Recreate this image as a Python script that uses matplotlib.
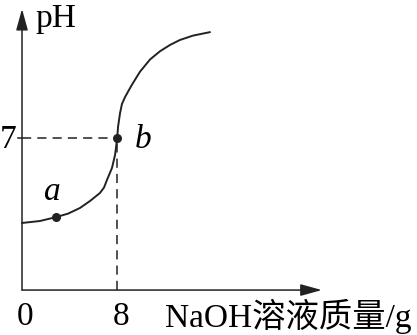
import matplotlib
matplotlib.use("Agg")
import matplotlib.pyplot as plt

plt.rcParams['font.family'] = ['Liberation Serif', 'Noto Sans CJK SC']

# curve: NaOH solution mass (g) vs pH
mass = [0, 1.5, 2.86, 3.87, 4.87, 5.71, 6.55, 6.89, 7.14, 7.56, 7.82, 8.0, 8.07, 8.24, 8.4,
        8.66, 9.22, 9.92, 10.76, 11.6, 12.44, 13.28, 14.37, 15.8]
ph = [3.09, 3.18, 3.36, 3.52, 3.78, 4.1, 4.47, 4.72, 5.07, 5.62, 6.22, 7.0, 7.51, 8.15, 8.57,
      8.89, 9.44, 10.06, 10.62, 11.0, 11.29, 11.52, 11.72, 11.88]

point_a = (2.86, 3.36)
point_b = (8, 7)
x_ticks = [0, 8]
y_ticks = [7]

fig = plt.figure(figsize=(4.17, 3.35), dpi=100)
ax = fig.add_axes([0, 0, 1, 1])
ax.set_xlim(-1.85, 33.2)
ax.set_ylim(-2.07, 13.36)
ax.axis('off')

ink = '#222222'

# axes with arrows
arrow = dict(arrowstyle='-|>,head_length=1.3,head_width=0.36', color=ink, lw=1.1,
             shrinkA=0, shrinkB=0)
ax.annotate('', xy=(0, 12.95), xytext=(0, 0), arrowprops=arrow)
ax.annotate('', xy=(25.2, 0), xytext=(0, 0), arrowprops=arrow)

# curve
ax.plot(mass, ph, color=ink, lw=1.4, solid_joinstyle='round', solid_capstyle='round')

# dashed guide lines
ax.plot([0, point_b[0]], [point_b[1], point_b[1]], color=ink, lw=1.1, ls=(0, (6, 4)))
ax.plot([point_b[0], point_b[0]], [0, point_b[1]], color=ink, lw=1.1, ls=(0, (6, 4)))
ax.plot([-0.35, 0], [7, 7], color=ink, lw=1.1)

# points
ax.plot(*point_a, 'o', color=ink, ms=5.5)
ax.plot(*point_b, 'o', color=ink, ms=5.5)
ax.text(2.56, 4.15, 'a', fontsize=24, style='italic', ha='center', va='baseline')
ax.text(10.2, 6.54, 'b', fontsize=24, style='italic', ha='center', va='baseline')

# tick labels
ax.text(0.29, -1.61, '0', fontsize=24, ha='center', va='baseline')
ax.text(8.3, -1.61, '8', fontsize=24, ha='center', va='baseline')
ax.text(-1.18, 6.54, '7', fontsize=24, ha='center', va='baseline')

ax.text(1.09, 12.11, 'pH', fontsize=24, ha='left', va='baseline')
ax.text(12.02, -1.69, 'NaOH溶液质量/g', fontsize=24, ha='left', va='baseline')

fig.savefig('out.png', dpi=100)
